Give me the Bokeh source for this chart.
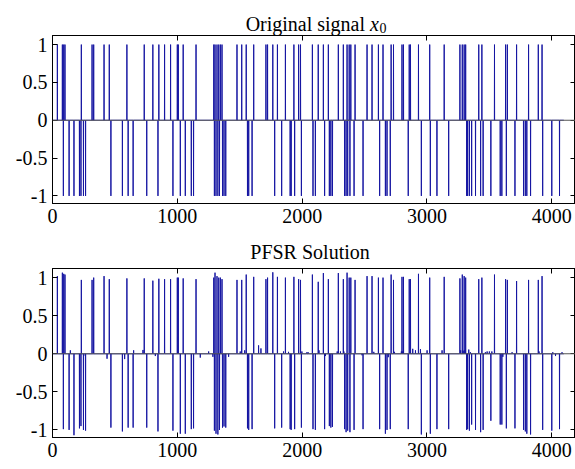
import numpy as np
from bokeh.plotting import figure
from bokeh.layouts import column
from bokeh.models import Range1d, FixedTicker, LinearAxis, Span, CustomJSTickFormatter
from bokeh.core.properties import value
from bokeh.embed import file_html
from bokeh.resources import INLINE

n_samples = 4096

# positions of +1 and -1 entries of the original signal x0
pos_idx = [39, 79, 90, 100, 231, 317, 330, 413, 455, 596,
           735, 804, 852, 898, 946, 1000, 1008, 1047, 1150, 1292,
           1302, 1318, 1332, 1345, 1358, 1478, 1516, 1552, 1612, 1710,
           1723, 1765, 1802, 1866, 1934, 1972, 1987, 2082, 2129, 2170,
           2210, 2290, 2330, 2360, 2377, 2390, 2424, 2520, 2560, 2611,
           2648, 2713, 2732, 2800, 2812, 2858, 2868, 2932, 3022, 3138,
           3264, 3283, 3298, 3310, 3415, 3440, 3541, 3630, 3644, 3718,
           3814, 3892, 3922]
neg_idx = [87, 133, 172, 216, 228, 248, 265, 468, 560, 606,
           646, 755, 845, 965, 1024, 1064, 1112, 1130, 1297, 1310,
           1325, 1338, 1362, 1374, 1388, 1562, 1572, 1599, 1780, 1836,
           1904, 1912, 1940, 1994, 2087, 2106, 2180, 2218, 2230, 2243,
           2340, 2352, 2365, 2383, 2416, 2488, 2621, 2667, 2680, 2706,
           2850, 2955, 3027, 3080, 3174, 3318, 3326, 3340, 3358, 3389,
           3430, 3450, 3512, 3587, 3600, 3636, 3705, 3774, 3788, 3800,
           3830, 3927, 4000, 4062]

# PFSR solution amplitudes at those positions
pfsr_pos_amp = [1.02, 1.065, 1.05, 1.04, 0.97, 0.97, 1.0, 1.02, 0.98, 0.99,
                0.99, 0.96, 0.985, 0.98, 0.98, 1.0, 1.0, 0.99, 0.98, 1.0,
                1.065, 1.02, 1.0, 1.0, 0.98, 0.97, 0.97, 1.04, 1.01, 0.98,
                1.0, 1.07, 1.01, 1.0, 1.01, 0.98, 0.97, 1.04, 0.945, 1.06,
                0.98, 1.06, 0.98, 1.065, 1.0, 1.0, 0.97, 1.02, 1.02, 1.0,
                1.0, 1.04, 0.97, 1.01, 1.01, 0.98, 0.98, 1.05, 1.0, 1.01,
                0.99, 1.04, 1.02, 1.0, 0.98, 1.0, 1.04, 0.98, 0.97, 0.955,
                0.97, 0.97, 1.02]
pfsr_neg_amp = [-0.99, -1.0, -1.07, -0.98, -0.95, -1.0, -1.01, -0.97, -1.02, -0.97,
                -0.97, -0.97, -1.02, -1.01, -1.05, -1.05, -0.99, -0.98, -1.01, -1.05,
                -1.06, -1.0, -0.97, -0.955, -0.97, -0.98, -1.0, -0.99, -0.98, -0.97,
                -0.99, -1.0, -0.99, -0.97, -0.99, -1.0, -0.99, -0.95, -0.97, -0.96,
                -0.99, -1.03, -1.01, -1.03, -1.0, -0.99, -0.99, -1.05, -1.0, -0.99,
                -0.99, -1.06, -1.05, -0.99, -0.99, -1.0, -0.99, -1.01, -0.93, -1.0,
                -1.03, -1.0, -0.88, -0.93, -0.93, -0.98, -0.98, -1.0, -1.02, -1.05,
                -1.06, -1.0, -1.01, -0.99]
# small residual entries of the PFSR solution
noise_idx = [143, 263, 437, 578, 650, 725, 824, 1184, 1251, 1285,
             1411, 1504, 1540, 1651, 1670, 1851, 1891, 1998, 2038, 2048,
             2135, 2187, 2281, 2307, 2334, 2480, 2574, 2690, 2740, 2795,
             2806, 2886, 2908, 2948, 3001, 3121, 3270, 3290, 3304, 3335,
             3348, 3468, 3482, 3500, 3520, 3608, 3682, 3898, 4008, 4030,
             4082]
noise_val = [0.045, -0.03, -0.065, -0.07, 0.045, 0.05, -0.03, -0.05, 0.03, -0.04,
             -0.04, 0.03, 0.045, 0.11, 0.07, 0.03, 0.025, 0.03, 0.02, 0.02,
             0.045, -0.03, 0.03, 0.03, 0.03, -0.02, 0.025, -0.045, 0.025, 0.03,
             0.03, 0.065, 0.045, 0.06, 0.045, 0.045, 0.045, 0.04, 0.045, 0.055,
             0.02, 0.02, 0.03, 0.03, 0.03, -0.04, 0.02, 0.03, 0.02, -0.03,
             0.02]

x_ticks = [0, 1000, 2000, 3000, 4000]
y_ticks = [-1, -0.5, 0, 0.5, 1]
title_top = "Original signal"
title_top_var = "x"
title_top_sub = "0"
title_bottom = "PFSR Solution"

# ---- build series ----
x = np.arange(1, n_samples + 1)
x0 = np.zeros(n_samples)
x0[np.array(pos_idx) - 1] = 1.0
x0[np.array(neg_idx) - 1] = -1.0
xs = np.zeros(n_samples)
xs[np.array(pos_idx) - 1] = pfsr_pos_amp
xs[np.array(neg_idx) - 1] = pfsr_neg_amp
xs[np.array(noise_idx) - 1] = noise_val

FONT = "Liberation Serif"
LINE_COLOR = "#1616a2"
W = 575
LEFT = 52
x_range = Range1d(0, 4190)


def style_axis(ax, ticks, show_labels=True):
    ax.ticker = FixedTicker(ticks=ticks)
    ax.major_tick_in = 5
    ax.major_tick_out = 0
    ax.minor_tick_line_color = None
    ax.axis_line_color = "black"
    ax.axis_line_width = 1
    ax.major_tick_line_color = "black"
    ax.major_tick_line_width = 1
    if show_labels:
        ax.major_label_text_font = FONT
        ax.major_label_text_font_size = "20px"
        ax.major_label_text_color = "black"
        ax.major_label_standoff = 5
    else:
        ax.major_label_text_color = None
        ax.major_label_text_font_size = "1px"
        ax.major_label_standoff = 0


def make_fig(series, height, bottom):
    p = figure(width=W, height=height,
               x_range=x_range, y_range=Range1d(-1.1, 1.12),
               output_backend="svg", toolbar_location=None,
               min_border_left=LEFT, min_border_right=0,
               min_border_top=0, min_border_bottom=bottom,
               background_fill_color="white", border_fill_color="white")
    p.xgrid.visible = False
    p.ygrid.visible = False
    p.outline_line_color = "black"
    p.outline_line_width = 1
    p.line(x, series, line_color=LINE_COLOR, line_width=1)
    p.add_layout(Span(location=0, dimension="width", line_color="#555555", line_width=1))
    style_axis(p.xaxis[0], x_ticks)
    style_axis(p.yaxis[0], y_ticks)
    p.yaxis[0].formatter = CustomJSTickFormatter(code="return tick.toString();")
    top_ax = LinearAxis()
    style_axis(top_ax, x_ticks, show_labels=False)
    p.add_layout(top_ax, "above")
    right_ax = LinearAxis()
    style_axis(right_ax, y_ticks, show_labels=False)
    p.add_layout(right_ax, "right")
    return p


def make_title_strip(height):
    t = figure(width=W, height=height, x_range=x_range, y_range=Range1d(0, height),
               output_backend="svg", toolbar_location=None,
               x_axis_location=None, y_axis_location=None,
               min_border_left=LEFT, min_border_right=0,
               min_border_top=0, min_border_bottom=0,
               background_fill_color="white", border_fill_color="white")
    t.grid.visible = False
    t.outline_line_color = None
    return t


t1 = make_title_strip(35)
t1.text(x=[2504], y=[12], text=[title_top], text_align="right",
        text_baseline="alphabetic", text_font=value(FONT),
        text_font_size=value("20px"), text_color="black")
t1.text(x=[2544], y=[12], text=[title_top_var], text_align="left",
        text_baseline="alphabetic", text_font=value(FONT), text_font_style="italic",
        text_font_size=value("20px"), text_color="black")
t1.text(x=[2620], y=[8], text=[title_top_sub], text_align="left",
        text_baseline="alphabetic", text_font=value(FONT),
        text_font_size=value("14px"), text_color="black")

t2 = make_title_strip(35)
t2.text(x=[2063], y=[16.3], text=[title_bottom], text_align="center",
        text_baseline="alphabetic", text_font=value(FONT),
        text_font_size=value("20px"), text_color="black")

p1 = make_fig(x0, 198, 30)
p2 = make_fig(xs, 201, 32)

layout = column(t1, p1, t2, p2, spacing=0)
open("out.html", "w").write(file_html(layout, INLINE))
